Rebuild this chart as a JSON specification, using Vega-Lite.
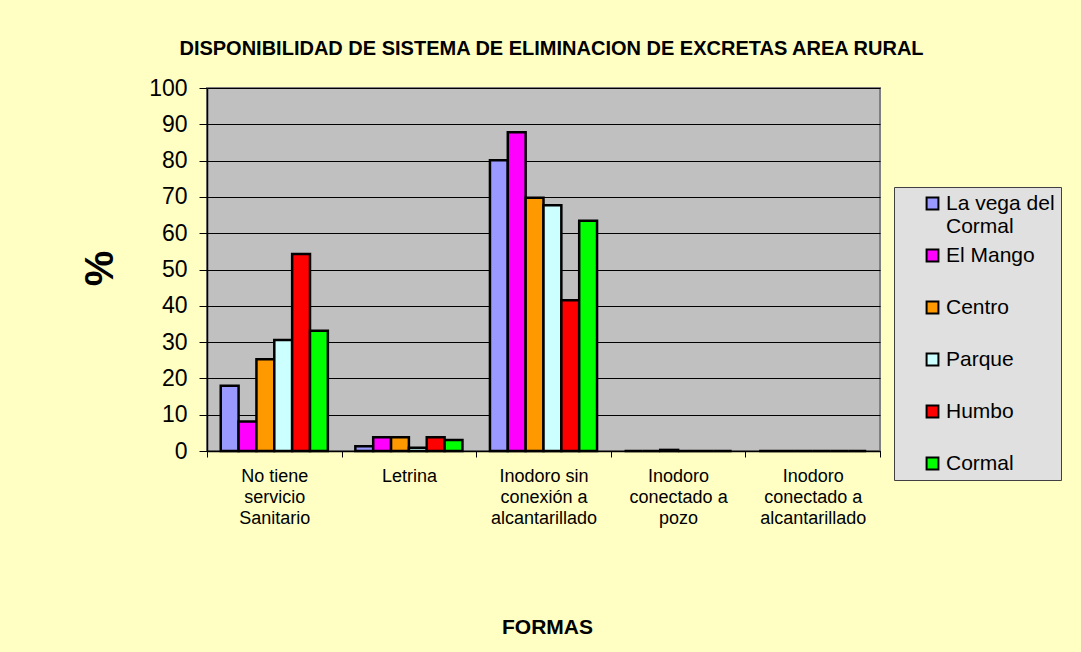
{
  "$schema": "https://vega.github.io/schema/vega-lite/v6.json",
  "autosize": {"type": "none"},
  "width": 673,
  "height": 363,
  "padding": {"left": 207, "top": 88, "right": 201, "bottom": 201},
  "background": "#FFFFC4",
  "title": {
    "text": "DISPONIBILIDAD DE SISTEMA DE ELIMINACION DE EXCRETAS AREA RURAL",
    "font": "Liberation Sans",
    "fontSize": 20,
    "fontWeight": "bold",
    "color": "#000000",
    "anchor": "middle",
    "dx": 8,
    "offset": 18
  },
  "data": {
    "values": [
      {"forma": "No tiene|servicio|Sanitario", "zona": "La vega del Cormal", "pct": 18},
      {"forma": "No tiene|servicio|Sanitario", "zona": "El Mango", "pct": 8.1},
      {"forma": "No tiene|servicio|Sanitario", "zona": "Centro", "pct": 25.3},
      {"forma": "No tiene|servicio|Sanitario", "zona": "Parque", "pct": 30.6},
      {"forma": "No tiene|servicio|Sanitario", "zona": "Humbo", "pct": 54.3},
      {"forma": "No tiene|servicio|Sanitario", "zona": "Cormal", "pct": 33.1},
      {"forma": "Letrina", "zona": "La vega del Cormal", "pct": 1.3},
      {"forma": "Letrina", "zona": "El Mango", "pct": 3.8},
      {"forma": "Letrina", "zona": "Centro", "pct": 3.8},
      {"forma": "Letrina", "zona": "Parque", "pct": 0.9},
      {"forma": "Letrina", "zona": "Humbo", "pct": 3.8},
      {"forma": "Letrina", "zona": "Cormal", "pct": 3.0},
      {"forma": "Inodoro sin|conexión a|alcantarillado", "zona": "La vega del Cormal", "pct": 80.1},
      {"forma": "Inodoro sin|conexión a|alcantarillado", "zona": "El Mango", "pct": 87.8},
      {"forma": "Inodoro sin|conexión a|alcantarillado", "zona": "Centro", "pct": 69.8},
      {"forma": "Inodoro sin|conexión a|alcantarillado", "zona": "Parque", "pct": 67.7},
      {"forma": "Inodoro sin|conexión a|alcantarillado", "zona": "Humbo", "pct": 41.5},
      {"forma": "Inodoro sin|conexión a|alcantarillado", "zona": "Cormal", "pct": 63.4},
      {"forma": "Inodoro|conectado a|pozo", "zona": "La vega del Cormal", "pct": 0},
      {"forma": "Inodoro|conectado a|pozo", "zona": "El Mango", "pct": 0},
      {"forma": "Inodoro|conectado a|pozo", "zona": "Centro", "pct": 0.3},
      {"forma": "Inodoro|conectado a|pozo", "zona": "Parque", "pct": 0},
      {"forma": "Inodoro|conectado a|pozo", "zona": "Humbo", "pct": 0},
      {"forma": "Inodoro|conectado a|pozo", "zona": "Cormal", "pct": 0},
      {"forma": "Inodoro|conectado a|alcantarillado", "zona": "La vega del Cormal", "pct": 0},
      {"forma": "Inodoro|conectado a|alcantarillado", "zona": "El Mango", "pct": 0},
      {"forma": "Inodoro|conectado a|alcantarillado", "zona": "Centro", "pct": 0},
      {"forma": "Inodoro|conectado a|alcantarillado", "zona": "Parque", "pct": 0},
      {"forma": "Inodoro|conectado a|alcantarillado", "zona": "Humbo", "pct": 0},
      {"forma": "Inodoro|conectado a|alcantarillado", "zona": "Cormal", "pct": 0}
    ]
  },
  "mark": {"type": "bar", "stroke": "#000000", "strokeWidth": 2.5},
  "encoding": {
    "x": {
      "field": "forma",
      "type": "nominal",
      "scale": {
        "domain": ["No tiene|servicio|Sanitario", "Letrina", "Inodoro sin|conexión a|alcantarillado", "Inodoro|conectado a|pozo", "Inodoro|conectado a|alcantarillado"],
        "paddingInner": 0,
        "paddingOuter": 0
      },
      "axis": {
        "title": "FORMAS",
        "titleFont": "Liberation Sans",
        "titleFontSize": 21,
        "titleFontWeight": "bold",
        "titleColor": "#000000",
        "titleY": 176,
        "titleBaseline": "middle",
        "titleX": 340,
        "labelExpr": "split(datum.label, '|')",
        "labelAngle": 0,
        "labelFont": "Liberation Sans",
        "labelFontSize": 18,
        "labelColor": "#000000",
        "labelLineHeight": 21,
        "labelPadding": 10,
        "labelBaseline": "top",
        "tickBand": "extent",
        "tickSize": 6,
        "tickColor": "#000000",
        "domainColor": "#000000",
        "domainWidth": 1.5
      }
    },
    "xOffset": {
      "field": "zona",
      "type": "nominal",
      "scale": {
        "domain": ["La vega del Cormal", "El Mango", "Centro", "Parque", "Humbo", "Cormal"],
        "paddingInner": 0,
        "paddingOuter": 0.77
      }
    },
    "y": {
      "field": "pct",
      "type": "quantitative",
      "scale": {"domain": [0, 100], "nice": false},
      "axis": {
        "title": "%",
        "titleFont": "Liberation Sans",
        "titleFontSize": 40,
        "titleFontWeight": "bold",
        "titleColor": "#000000",
        "titleAngle": 270,
        "titleX": -107,
        "titleY": 180,
        "titleBaseline": "middle",
        "titleAlign": "center",
        "values": [0, 10, 20, 30, 40, 50, 60, 70, 80, 90, 100],
        "labelFont": "Liberation Sans",
        "labelFontSize": 23,
        "labelColor": "#000000",
        "labelPadding": 12,
        "tickSize": 8,
        "tickColor": "#000000",
        "domainColor": "#000000",
        "domainWidth": 1.5,
        "grid": true,
        "gridColor": "#000000",
        "gridWidth": 1,
        "gridOpacity": 1
      }
    },
    "color": {
      "field": "zona",
      "type": "nominal",
      "scale": {
        "domain": ["La vega del Cormal", "El Mango", "Centro", "Parque", "Humbo", "Cormal"],
        "range": ["#9999FF", "#FF00FF", "#FF9900", "#CCFFFF", "#FF0000", "#00FF00"]
      },
      "legend": {
        "title": null,
        "orient": "none",
        "legendX": 687,
        "legendY": 99,
        "labelExpr": "datum.label == 'La vega del Cormal' ? ['La vega del  ', 'Cormal'] : datum.label",
        "labelFont": "Liberation Sans",
        "labelFontSize": 21,
        "labelColor": "#000000",
        "labelLimit": 250,
        "labelOffset": 3,
        "gridAlign": "all",
        "symbolType": "square",
        "symbolSize": 140,
        "symbolStrokeColor": "#000000",
        "symbolStrokeWidth": 2,
        "fillColor": "#E0E0E0",
        "strokeColor": "#404040",
        "padding": 6,
        "rowPadding": 7,
        "symbolOffset": 22
      }
    }
  },
  "config": {
    "view": {"fill": "#C0C0C0", "stroke": "#808080", "strokeWidth": 2},
    "axis": {"labelFont": "Liberation Sans", "titleFont": "Liberation Sans"}
  }
}
